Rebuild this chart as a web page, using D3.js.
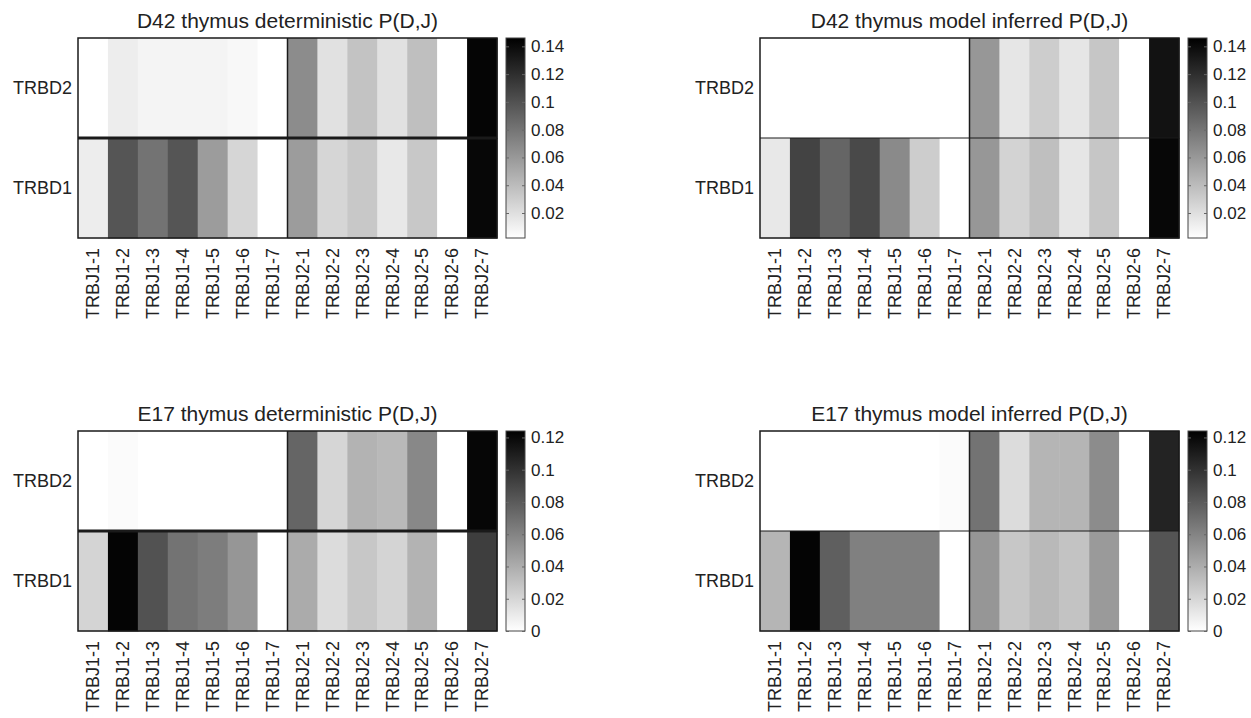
<!DOCTYPE html>
<html>
<head>
<meta charset="utf-8">
<script src="https://cdn.jsdelivr.net/npm/d3@7"></script>
<style>
  body { margin: 0; background: #fff; }
  svg { font-family: "Liberation Sans", Arial, sans-serif; }
  .lbl { fill: #222; font-size: 18px; }
  .ttl { fill: #222; font-size: 21px; }
  .tick text { fill: #222; font-size: 17px; }
</style>
</head>
<body>
<svg id="chart" width="1251" height="718"></svg>
<script>
// genes
const jGenes = ['TRBJ1-1', 'TRBJ1-2', 'TRBJ1-3', 'TRBJ1-4', 'TRBJ1-5', 'TRBJ1-6', 'TRBJ1-7',
  'TRBJ2-1', 'TRBJ2-2', 'TRBJ2-3', 'TRBJ2-4', 'TRBJ2-5', 'TRBJ2-6', 'TRBJ2-7']
const dGenes = ['TRBD2', 'TRBD1']

const titles = ['D42 thymus deterministic P(D,J)', 'D42 thymus model inferred P(D,J)',
  'E17 thymus deterministic P(D,J)', 'E17 thymus model inferred P(D,J)']

// P(D,J), per J gene
const d42DetD2 = [0.002, 0.012, 0.008, 0.008, 0.008, 0.006, 0.002, 0.067, 0.019, 0.036, 0.019, 0.038, 0.002, 0.143]
const d42DetD1 = [0.012, 0.098, 0.081, 0.098, 0.058, 0.025, 0.002, 0.058, 0.025, 0.033, 0.015, 0.033, 0.002, 0.142]
const d42ModD2 = [0.002, 0.002, 0.002, 0.002, 0.002, 0.002, 0.002, 0.061, 0.016, 0.030, 0.016, 0.034, 0.002, 0.136]
const d42ModD1 = [0.015, 0.108, 0.089, 0.105, 0.068, 0.030, 0.002, 0.061, 0.027, 0.038, 0.016, 0.034, 0.002, 0.142]
const e17DetD2 = [0, 0.002, 0, 0, 0, 0, 0, 0.075, 0.020, 0.037, 0.034, 0.058, 0, 0.121]
const e17DetD1 = [0.021, 0.122, 0.084, 0.068, 0.063, 0.051, 0, 0.041, 0.017, 0.027, 0.021, 0.037, 0, 0.094]
const e17ModD2 = [0, 0, 0, 0, 0, 0, 0.002, 0.068, 0.017, 0.036, 0.036, 0.056, 0, 0.107]
const e17ModD1 = [0.036, 0.122, 0.078, 0.062, 0.062, 0.062, 0, 0.051, 0.027, 0.034, 0.029, 0.049, 0, 0.083]

// colour limits and colorbar ticks
const d42Range = [0.002, 0.146]
const e17Range = [0, 0.124]
const d42Ticks = [0.02, 0.04, 0.06, 0.08, 0.1, 0.12, 0.14]
const e17Ticks = [0, 0.02, 0.04, 0.06, 0.08, 0.1, 0.12]

const panels = [
  { title: titles[0], rows: [d42DetD2, d42DetD1], range: d42Range, ticks: d42Ticks, x: 78, y: 38, mid: 3 },
  { title: titles[1], rows: [d42ModD2, d42ModD1], range: d42Range, ticks: d42Ticks, x: 760, y: 38, mid: 1.2 },
  { title: titles[2], rows: [e17DetD2, e17DetD1], range: e17Range, ticks: e17Ticks, x: 78, y: 431, mid: 3 },
  { title: titles[3], rows: [e17ModD2, e17ModD1], range: e17Range, ticks: e17Ticks, x: 760, y: 431, mid: 1.2 }
]

const w = 419
const h = 200
const svg = d3.select('#chart')
const defs = svg.append('defs')

const x = d3.scaleBand().domain(jGenes).range([0, w])
const y = d3.scaleBand().domain(dGenes).range([0, h])

panels.forEach((p, pi) => {
  const color = d3.scaleLinear().domain(p.range).range(['#ffffff', '#000000']).clamp(true)
  const g = svg.append('g').attr('transform', `translate(${p.x},${p.y})`)

  const cells = dGenes.flatMap((dg, ri) => p.rows[ri].map((v, ci) => ({ d: dg, j: jGenes[ci], v })))
  g.selectAll('rect.cell')
    .data(cells)
    .enter().append('rect')
    .attr('class', 'cell')
    .attr('x', d => x(d.j))
    .attr('y', d => y(d.d))
    .attr('width', x.bandwidth() + 0.5)
    .attr('height', y.bandwidth() + 0.5)
    .attr('fill', d => color(d.v))

  // dividers
  g.append('line')
    .attr('x1', 0).attr('x2', w)
    .attr('y1', y('TRBD1')).attr('y2', y('TRBD1'))
    .attr('stroke', '#1a1a1a').attr('stroke-width', p.mid)
  g.append('line')
    .attr('x1', x('TRBJ2-1')).attr('x2', x('TRBJ2-1'))
    .attr('y1', 0).attr('y2', h)
    .attr('stroke', '#1a1a1a').attr('stroke-width', 1.5)
  g.append('rect')
    .attr('width', w).attr('height', h)
    .attr('fill', 'none').attr('stroke', '#1a1a1a').attr('stroke-width', 1.5)

  // title
  g.append('text').attr('class', 'ttl')
    .attr('x', w / 2).attr('y', -10)
    .attr('text-anchor', 'middle')
    .text(p.title)

  // row labels
  g.selectAll('text.row')
    .data(dGenes)
    .enter().append('text')
    .attr('class', 'lbl row')
    .attr('x', -6)
    .attr('y', d => y(d) + y.bandwidth() / 2)
    .attr('dy', '0.35em')
    .attr('text-anchor', 'end')
    .text(d => d)

  // column labels
  g.selectAll('text.col')
    .data(jGenes)
    .enter().append('text')
    .attr('class', 'lbl col')
    .attr('transform', d => `translate(${x(d) + x.bandwidth() / 2},${h + 10}) rotate(-90)`)
    .attr('dy', '0.35em')
    .attr('text-anchor', 'end')
    .text(d => d)

  // colorbar
  const cb = g.append('g').attr('transform', `translate(${w + 9},0)`)
  const cbW = 19
  const gid = 'grad' + pi
  const grad = defs.append('linearGradient').attr('id', gid)
    .attr('x1', 0).attr('x2', 0).attr('y1', 1).attr('y2', 0)
  grad.append('stop').attr('offset', 0).attr('stop-color', '#fff')
  grad.append('stop').attr('offset', 1).attr('stop-color', '#000')
  cb.append('rect').attr('width', cbW).attr('height', h)
    .attr('fill', `url(#${gid})`)
    .attr('stroke', '#444').attr('stroke-width', 1)

  const cy = d3.scaleLinear().domain(p.range).range([h, 0])
  const fmt = d => String(+d.toFixed(2))
  cb.append('g')
    .attr('transform', `translate(${cbW},0)`)
    .call(d3.axisRight(cy).tickValues(p.ticks).tickSize(-3).tickPadding(6).tickFormat(fmt))
    .call(a => a.attr('font-family', null).attr('font-size', null))
    .call(a => a.select('.domain').remove())
    .call(a => a.selectAll('line').attr('stroke', '#666'))
    .call(a => a.selectAll('text').attr('fill', null))
  cb.append('g')
    .call(d3.axisLeft(cy).tickValues(p.ticks).tickSize(-3).tickFormat(''))
    .call(a => a.select('.domain').remove())
    .call(a => a.selectAll('line').attr('stroke', '#666'))
})
</script>
</body>
</html>
